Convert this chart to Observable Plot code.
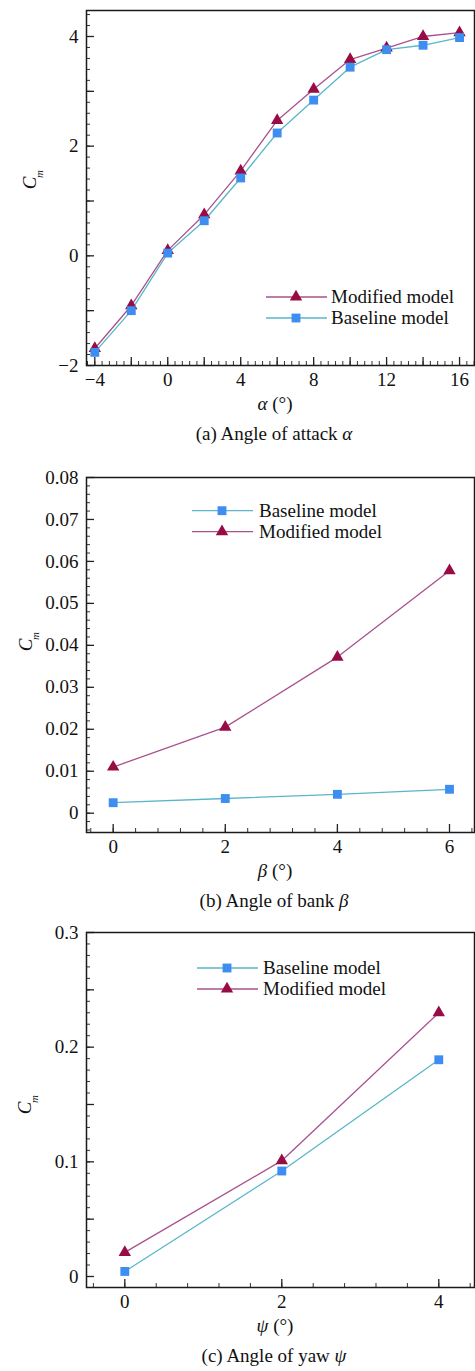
<!DOCTYPE html>
<html><head><meta charset="utf-8">
<script src="https://cdn.jsdelivr.net/npm/d3@7"></script>
<script src="https://cdn.jsdelivr.net/npm/@observablehq/plot@0.6"></script>
<style>body{margin:0;background:#fff} #c svg{display:block}</style>
</head><body><div id="c"></div>
<script>
// ---- data ----
const alphaDeg = [-4, -2, 0, 2, 4, 6, 8, 10, 12, 14, 16];
const alphaModified = [-1.69, -0.91, 0.10, 0.75, 1.55, 2.47, 3.04, 3.58, 3.79, 4.00, 4.07];
const alphaBaseline = [-1.76, -1.00, 0.05, 0.64, 1.42, 2.24, 2.84, 3.44, 3.76, 3.84, 3.98];
const betaDeg = [0, 2, 4, 6];
const betaBaseline = [0.0025, 0.0035, 0.0045, 0.0057];
const betaModified = [0.0110, 0.0205, 0.0372, 0.0578];
const psiDeg = [0, 2, 4];
const psiBaseline = [0.0044, 0.092, 0.189];
const psiModified = [0.021, 0.101, 0.230];
// tick labels
const alphaXTicks = [-4, 0, 4, 8, 12, 16];
const alphaYTicks = [-2, 0, 2, 4];
const betaXTicks = [0, 2, 4, 6];
const betaYTicks = [0, 0.01, 0.02, 0.03, 0.04, 0.05, 0.06, 0.07, 0.08];
const psiXTicks = [0, 2, 4];
const psiYTicks = [0, 0.1, 0.2, 0.3];
const nameModified = "Modified model";
const nameBaseline = "Baseline model";

const C = {modLine: "#a8528c", modMark: "#980c45", baseLine: "#5ab6c9", baseMark: "#3d8ef0"};
const FONT = "\"Liberation Serif\", \"Times New Roman\", serif";
const FS = 19;
const W = 475, ML = 86, MR = 1;
const RT = 4.6, RS = 5.0;

function steps(a, b, s) {
  const out = [];
  const n = Math.round((b - a) / s);
  for (let i = 0; i <= n; i++) out.push(Math.round((a + i * s) * 1e6) / 1e6);
  return out;
}
function inDom(arr, dom) { return arr.filter(v => v >= dom[0] - 1e-9 && v <= dom[1] + 1e-9); }

function panel(o) {
  const plotW = W - ML - MR, plotH = o.height - o.marginTop - o.marginBottom;
  const rows = s => o.xs.map((x, i) => ({x, y: s[i]}));
  const mod = rows(o.mod), base = rows(o.base);
  const xMinor = inDom(o.xMinor, o.xDomain), yMinor = inDom(o.yMinor, o.yDomain);
  const xMajor = inDom(o.xMajor, o.xDomain), yMajor = inDom(o.yMajor, o.yDomain);
  const svg = Plot.plot({
    width: W, height: o.height,
    marginLeft: ML, marginRight: MR, marginTop: o.marginTop, marginBottom: o.marginBottom,
    style: {fontFamily: FONT, fontSize: FS + "px", color: "#111", background: "#fff"},
    x: {domain: o.xDomain},
    y: {domain: o.yDomain},
    marks: [
      Plot.tickY(yMinor, {y: d => d, insetRight: plotW - 4, stroke: "#333", strokeWidth: 1}),
      Plot.tickY(yMajor, {y: d => d, insetRight: plotW - 8, stroke: "#222", strokeWidth: 1.3}),
      Plot.tickX(xMinor, {x: d => d, insetTop: plotH - 4, stroke: "#333", strokeWidth: 1}),
      Plot.tickX(xMajor, {x: d => d, insetTop: plotH - 8, stroke: "#222", strokeWidth: 1.3}),
      Plot.axisY(o.yLabels, {tickSize: 0, tickPadding: 8, tickFormat: o.yFmt, label: null, fontSize: FS, fill: "#111"}),
      Plot.axisX(o.xLabels, {tickSize: 0, tickPadding: 7, tickFormat: o.xFmt, label: null, fontSize: FS, fill: "#111"}),
      Plot.line(mod, {x: "x", y: "y", stroke: C.modLine, strokeWidth: 1.3}),
      Plot.line(base, {x: "x", y: "y", stroke: C.baseLine, strokeWidth: 1.3}),
      Plot.dot(mod, {x: "x", y: "y", symbol: "triangle", r: RT, fill: C.modMark, stroke: "none"}),
      Plot.dot(base, {x: "x", y: "y", symbol: "square", r: RS, fill: C.baseMark, stroke: "none"}),
      Plot.frame({stroke: "#1a1a1a", strokeWidth: 1.5})
    ]
  });
  svg.setAttribute("font-family", FONT);
  const s = d3.select(svg);
  const fb = o.height - o.marginBottom; // frame bottom
  const g = s.append("g").attr("font-family", FONT).attr("fill", "#111");
  // y label C_m
  g.append("text").attr("transform", `translate(${o.cPos[0]},${o.cPos[1]}) rotate(-90)`)
    .attr("text-anchor", "middle").attr("dy", "0.35em").attr("font-size", FS).attr("font-style", "italic").text("C");
  g.append("text").attr("transform", `translate(${o.cPos[0] + 10},${o.cPos[1] - 9}) rotate(-90)`)
    .attr("text-anchor", "middle").attr("dy", "0.35em").attr("font-size", 11).attr("font-style", "italic").text("m");
  // x label
  const xl = g.append("text").attr("x", 275).attr("y", fb + 45).attr("text-anchor", "middle").attr("font-size", FS);
  xl.append("tspan").attr("font-style", "italic").text(o.sym);
  xl.append("tspan").text(" (°)");
  // caption
  const cap = g.append("text").attr("x", 274).attr("y", fb + 75).attr("text-anchor", "middle").attr("font-size", FS);
  cap.append("tspan").text(o.caption + " ");
  cap.append("tspan").attr("font-style", "italic").text(o.sym);
  // legend
  const lg = s.append("g");
  o.legend.forEach((item, i) => {
    const y = o.legY + i * 21;
    const isMod = item === nameModified;
    lg.append("line").attr("x1", o.legX[0]).attr("x2", o.legX[1]).attr("y1", y).attr("y2", y)
      .attr("stroke", isMod ? C.modLine : C.baseLine).attr("stroke-width", 1.3);
    const sym = isMod ? d3.symbol(d3.symbolTriangle, RT * RT * Math.PI) : d3.symbol(d3.symbolSquare, RS * RS * Math.PI);
    lg.append("path").attr("d", sym()).attr("transform", `translate(${o.legX[2]},${y})`)
      .attr("fill", isMod ? C.modMark : C.baseMark);
    lg.append("text").attr("x", o.legX[3]).attr("y", y).attr("dy", "0.33em").attr("font-family", FONT)
      .attr("text-anchor", "start").attr("font-size", FS).attr("fill", "#111").text(item);
  });
  return svg;
}

const minusFmt = d => d < 0 ? "\u2212" + Math.abs(d) : String(d);
const root = document.getElementById("c");

root.appendChild(panel({
  xs: alphaDeg, mod: alphaModified, base: alphaBaseline,
  xDomain: [-4.455, 16.82], yDomain: [-2, 4.474],
  height: 450, marginTop: 10, marginBottom: 85,
  xLabels: alphaXTicks, yLabels: alphaYTicks, xFmt: minusFmt, yFmt: minusFmt,
  xMajor: steps(-4, 16, 2), xMinor: steps(-4.4, 16.8, 0.4),
  yMajor: steps(-2, 4, 1), yMinor: steps(-2, 4.4, 0.2),
  cPos: [29, 183], sym: "\u03b1", caption: "(a) Angle of attack",
  legend: [nameModified, nameBaseline], legY: 297, legX: [266, 327, 296, 331]
}));
root.appendChild(panel({
  xs: betaDeg, mod: betaModified, base: betaBaseline,
  xDomain: [-0.476, 6.446], yDomain: [-0.0046, 0.08],
  height: 465, marginTop: 27, marginBottom: 83,
  xLabels: betaXTicks, yLabels: betaYTicks, xFmt: minusFmt, yFmt: d => d === 0 ? "0" : d.toFixed(2),
  xMajor: steps(0, 6, 2), xMinor: steps(-0.4, 6.4, 0.4),
  yMajor: steps(0, 0.08, 0.01), yMinor: steps(-0.004, 0.08, 0.002),
  cPos: [25, 195], sym: "\u03b2", caption: "(b) Angle of bank",
  legend: [nameBaseline, nameModified], legY: 60.7, legX: [192, 253, 222, 259]
}));
root.appendChild(panel({
  xs: psiDeg, mod: psiModified, base: psiBaseline,
  xDomain: [-0.488, 4.455], yDomain: [-0.0096, 0.3],
  height: 456, marginTop: 17, marginBottom: 84,
  xLabels: psiXTicks, yLabels: psiYTicks, xFmt: minusFmt, yFmt: d => d === 0 ? "0" : d.toFixed(1),
  xMajor: steps(0, 4, 2), xMinor: steps(-0.4, 4.4, 0.4),
  yMajor: steps(0, 0.3, 0.05), yMinor: steps(0, 0.3, 0.01),
  cPos: [24, 193], sym: "\u03c8", caption: "(c) Angle of yaw",
  legend: [nameBaseline, nameModified], legY: 53, legX: [197, 258, 227, 263]
}));
</script>
</body></html>
